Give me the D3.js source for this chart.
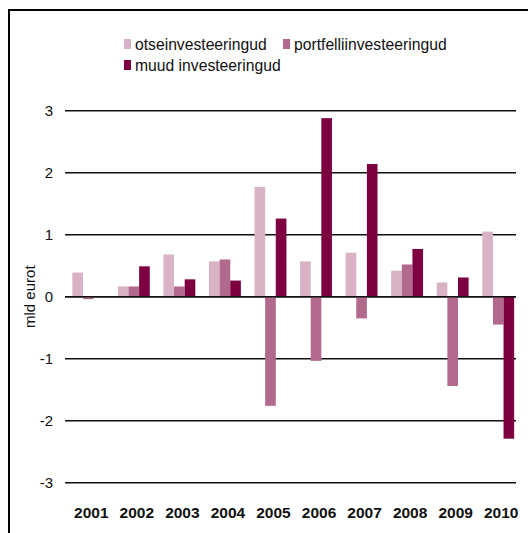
<!DOCTYPE html>
<html><head><meta charset="utf-8">
<script src="https://cdn.jsdelivr.net/npm/d3@7"></script>
<style>body{margin:0;background:#fff;}svg{display:block;font-family:"Liberation Sans",Arial,sans-serif;}</style>
</head><body>
<svg id="c" width="528" height="533"></svg>
<script>
const years = ["2001","2002","2003","2004","2005","2006","2007","2008","2009","2010"];
const seriesNames = ["otseinvesteeringud","portfelliinvesteeringud","muud investeeringud"];
const otse = [0.39,0.165,0.68,0.57,1.77,0.57,0.71,0.42,0.23,1.05];
const portfell = [-0.04,0.165,0.165,0.60,-1.76,-1.035,-0.35,0.52,-1.44,-0.45];
const muud = [0,0.49,0.28,0.26,1.26,2.88,2.14,0.77,0.31,-2.29];
const yTicks = [-3,-2,-1,0,1,2,3];
const colors = ["#d9b3c5","#b1698d","#7d0040"];
const seriesVals = [otse, portfell, muud];

const svg = d3.select("#c");
// frame
svg.append("path").attr("d","M9,533 V10 H528").attr("fill","none").attr("stroke","#000").attr("stroke-width",2);

const y = d3.scaleLinear().domain([-3,3]).range([482.7,110.7]);
const x = d3.scaleBand().domain(years).range([65.5,521]).paddingInner(0.3).paddingOuter(0.15);
const xs = d3.scaleBand().domain(d3.range(3)).range([0,x.bandwidth()]);

// gridlines
svg.append("g").selectAll("line").data(yTicks).join("line")
  .attr("x1",65).attr("x2",516).attr("y1",d=>y(d)).attr("y2",d=>y(d))
  .attr("stroke","#111").attr("stroke-width",1.4);

// y axis labels
svg.append("g").selectAll("text").data(yTicks).join("text")
  .attr("x",53).attr("y",d=>y(d)).attr("dy","0.35em").attr("text-anchor","end")
  .attr("font-size",15).attr("fill","#111").text(d=>d);

svg.append("text").attr("transform",`translate(35,${y(0)}) rotate(-90)`)
  .attr("text-anchor","middle").attr("font-size",15).attr("fill","#111").text("mld eurot");

// bars
seriesVals.forEach((vals,si)=>{
  svg.append("g").selectAll("rect").data(vals.map((v,i)=>({v,y:years[i]}))).join("rect")
    .attr("x",d=>x(d.y)+xs(si)).attr("width",xs.bandwidth())
    .attr("y",d=>Math.min(y(d.v),y(0))).attr("height",d=>Math.abs(y(d.v)-y(0)))
    .attr("fill",colors[si]);
});
// redraw zero line on top
svg.append("line").attr("x1",65).attr("x2",516).attr("y1",y(0)).attr("y2",y(0)).attr("stroke","#111").attr("stroke-width",1.4);

// x labels
svg.append("g").selectAll("text").data(years).join("text")
  .attr("x",d=>x(d)+x.bandwidth()/2+3).attr("y",518).attr("text-anchor","middle")
  .attr("font-size",15.5).attr("font-weight","bold").attr("fill","#111").text(d=>d);

// legend
const leg = [{x:124,y:39},{x:283,y:39},{x:124,y:60}];
leg.forEach((p,i)=>{
  svg.append("rect").attr("x",p.x).attr("y",p.y).attr("width",7).attr("height",10).attr("fill",colors[i]);
  svg.append("text").attr("x",p.x+11).attr("y",p.y+11).attr("font-size",15.7).attr("fill","#111").text(seriesNames[i]);
});
</script>
</body></html>
